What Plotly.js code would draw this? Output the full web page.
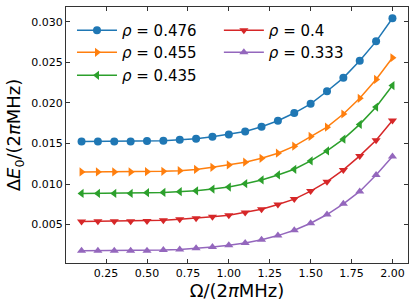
<!DOCTYPE html>
<html><head><meta charset="utf-8">
<script src="https://cdn.plot.ly/plotly-3.0.1.min.js"></script>
<style>html,body{margin:0;padding:0;background:#fff}#c{width:416px;height:306px}</style>
</head><body><div id="c"></div>
<script>
const omega = [0.1,0.2,0.3,0.4,0.5,0.6,0.7,0.8,0.9,1.0,1.1,1.2,1.3,1.4,1.5,1.6,1.7,1.8,1.9,2.0];
const rho476 = [0.01525,0.01525,0.01525,0.01525,0.0153,0.01533,0.01545,0.01558,0.01583,0.01612,0.01649,0.01707,0.01781,0.01876,0.0199,0.02145,0.0231,0.0252,0.0276,0.03045];
const rho455 = [0.0115,0.0115,0.0115,0.0115,0.01153,0.01157,0.01165,0.0118,0.01207,0.01236,0.01269,0.01318,0.0138,0.01467,0.01587,0.01702,0.01864,0.02058,0.0229,0.02558];
const rho435 = [0.00884,0.00884,0.00884,0.00884,0.00893,0.00897,0.00905,0.00917,0.00938,0.00963,0.01004,0.0105,0.01112,0.01182,0.01285,0.01409,0.01554,0.01736,0.0195,0.02215];
const rho400 = [0.00537,0.0054,0.0054,0.0054,0.00545,0.00554,0.00566,0.00579,0.00595,0.00616,0.00649,0.0069,0.00748,0.00814,0.00913,0.01029,0.01174,0.01347,0.01541,0.01785];
const rho333 = [0.00178,0.00178,0.00178,0.00178,0.00178,0.00186,0.00194,0.00207,0.00223,0.00244,0.00273,0.00314,0.00364,0.0043,0.00517,0.00624,0.00756,0.00909,0.01112,0.01339];
const names = ['<i>ρ</i> = 0.476','<i>ρ</i> = 0.455','<i>ρ</i> = 0.435','<i>ρ</i> = 0.4','<i>ρ</i> = 0.333'];
const series = [rho476,rho455,rho435,rho400,rho333];
const colors = ['#1f77b4','#ff7f0e','#2ca02c','#d62728','#9467bd'];
const symbols = ['circle','triangle-right','triangle-left','triangle-down','triangle-up'];
const xTicks = [0.25,0.5,0.75,1.0,1.25,1.5,1.75,2.0];
const xTickText = ['0.25','0.50','0.75','1.00','1.25','1.50','1.75','2.00'];
const yTicks = [0.005,0.010,0.015,0.020,0.025,0.030];
const yTickText = ['0.005','0.010','0.015','0.020','0.025','0.030'];

const legendIds = ['legend','legend2','legend3','legend4','legend5'];
const legendPos = [[0.0175,0.908],[0.0175,0.822],[0.0175,0.732],[0.447,0.908],[0.447,0.822]];

const traces = series.map((s,i)=>({
  x: omega, y: s, type:'scatter', mode:'lines+markers', name: names[i],
  line:{color:colors[i], width:1.5},
  marker:{color:colors[i], symbol:symbols[i], size:8},
  legend: legendIds[i]
}));
const axisCommon = {
  showgrid:false, zeroline:false, showline:true, linecolor:'#333', linewidth:1,
  mirror:'ticks', ticks:'inside', ticklen:4, tickwidth:1, tickcolor:'#333',
  tickfont:{family:'DejaVu Sans', size:11, color:'#000'}
};
const layout = {
  width:416, height:306,
  margin:{l:66, r:8, t:7, b:43},
  paper_bgcolor:'#fff', plot_bgcolor:'#fff',
  font:{family:'DejaVu Sans', color:'#000'},
  showlegend:true,
  xaxis: Object.assign({}, axisCommon, {
    range:[0.005,2.095], tickvals:xTicks, ticktext:xTickText,
    title:{text:'Ω/(2<i>π</i>MHz)', font:{family:'DejaVu Sans', size:18, color:'#000'}, standoff:3}
  }),
  yaxis: Object.assign({}, axisCommon, {
    range:[0.00026,0.03184], tickvals:yTicks, ticktext:yTickText,
    title:{text:'Δ<i>E</i><sub>0</sub>/(2<i>π</i>MHz)', font:{family:'DejaVu Sans', size:18, color:'#000'}, standoff:5}
  })
};
legendIds.forEach((id,i)=>{
  layout[id] = {x:legendPos[i][0], y:legendPos[i][1], xanchor:'left', yanchor:'middle',
    bgcolor:'rgba(0,0,0,0)', font:{family:'DejaVu Sans', size:15, color:'#000'}, itemwidth:40};
});
Plotly.newPlot('c', traces, layout, {displayModeBar:false, staticPlot:true});
</script></body></html>
